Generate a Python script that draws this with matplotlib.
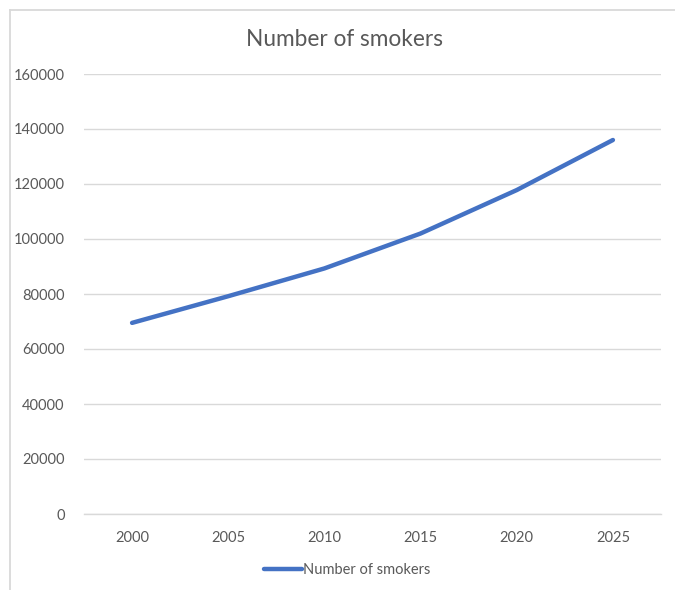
import matplotlib
matplotlib.use("Agg")
import matplotlib.pyplot as plt
from matplotlib.lines import Line2D

years = ["2000", "2005", "2010", "2015", "2020", "2025"]
smokers = [69500, 79200, 89300, 102000, 117800, 136000]
y_ticks = [0, 20000, 40000, 60000, 80000, 100000, 120000, 140000, 160000]

plt.rcParams['font.family'] = ['Lato', 'DejaVu Sans']
text_color = "#595959"
grid_color = "#D9D9D9"
line_color = "#4472C4"

fig = plt.figure(figsize=(6.75, 5.9), dpi=100)
# chart-area border (only top and left edges visible)
top_y = 1 - 9.5/590
left_x = 9.5/675
fig.add_artist(Line2D([left_x, 1], [top_y, top_y], transform=fig.transFigure,
                      color=grid_color, linewidth=1.3))
fig.add_artist(Line2D([left_x, left_x], [0, top_y], transform=fig.transFigure,
                      color=grid_color, linewidth=1.3))

ax = fig.add_axes([84/675, 1 - 514/590, 577/675, 440/590])
x = list(range(len(years)))
ax.plot(x, smokers, color=line_color, linewidth=3.2, solid_capstyle="round",
        solid_joinstyle="round", label="Number of smokers")
ax.set_xlim(-0.5, len(years) - 0.5)
ax.set_ylim(0, 160000)
ax.set_yticks(y_ticks)
ax.set_yticklabels([str(v) for v in y_ticks])
ax.set_xticks(x)
ax.set_xticklabels(years)
ax.grid(axis="y", color=grid_color, linewidth=1.0)
ax.set_axisbelow(True)
for s in ax.spines.values():
    s.set_visible(False)
ax.spines["bottom"].set_visible(True)
ax.spines["bottom"].set_color(grid_color)
ax.spines["bottom"].set_linewidth(1.0)
ax.tick_params(axis="both", length=0, labelsize=10.5, colors=text_color)
ax.tick_params(axis="y", pad=14)
ax.tick_params(axis="x", pad=12)

fig.text(345/675, 1 - 40/590, "Number of smokers", ha="center", va="center",
         fontsize=16.3, color=text_color)

leg = fig.legend(loc="center", bbox_to_anchor=(347/675, 1 - 570/590), frameon=False,
                 fontsize=10.5, handlelength=2.6, handletextpad=0.08, labelcolor=text_color)

fig.savefig("out.png", dpi=100)
